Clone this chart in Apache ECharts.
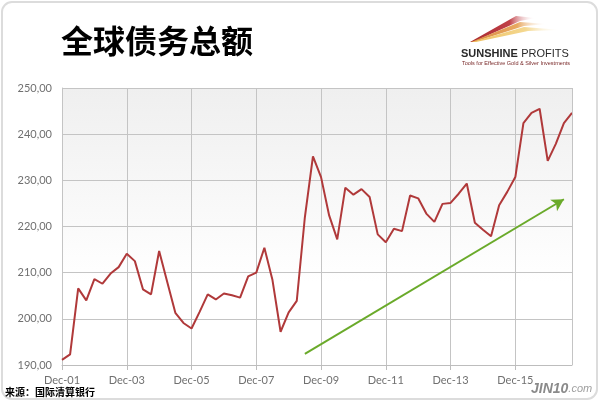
<!DOCTYPE html>
<html><head><meta charset="utf-8">
<script src="https://cdn.jsdelivr.net/npm/echarts@6/dist/echarts.min.js"></script>
<style>html,body{margin:0;padding:0;background:#fff}#c{width:600px;height:403px}</style>
</head><body><div id="c"></div>
<script>
// Quarterly categories, Dec-01 .. Sep-17
var startYear = 2001;
var monthNames = ['Mar','Jun','Sep','Dec'];
var categories = [];
(function(){ var y = startYear, q = 3; for (var i = 0; i < 64; i++) { categories.push(monthNames[q] + '-' + String(y % 100).padStart(2,'0')); q++; if (q > 3) { q = 0; y++; } } })();

var debtValues = [
191.1, 192.3, 206.6, 204.0, 208.6, 207.6, 209.8, 211.2, 214.1, 212.5,
206.4, 205.3, 214.7, 208.0, 201.3, 199.1, 197.9, 201.5, 205.3, 204.2,
205.5, 205.1, 204.6, 209.2, 210.0, 215.4, 208.4, 197.2, 201.4, 203.9,
222.0, 235.2, 230.7, 222.4, 217.2, 228.4, 226.9, 228.1, 226.4, 218.3,
216.6, 219.5, 219.0, 226.7, 226.1, 222.8, 221.0, 224.9, 225.1, 227.1,
229.3, 220.8, 219.3, 217.9, 224.6, 227.5, 230.7, 242.4, 244.6, 245.5,
234.2, 237.9, 242.4, 244.6
];
var yTicks = [190, 200, 210, 220, 230, 240, 250];
var trendStart = [29.9, 192.4];
var trendEnd = [62.4, 225.9];

var chart = echarts.init(document.getElementById('c'), null, {renderer:'canvas'});
var axisFont = 'Lato, "Open Sans", sans-serif';
function fade(c1, c2) {
  return new echarts.graphic.LinearGradient(0,0,1,0,[{offset:0,color:c1},{offset:0.6,color:c2},{offset:1,color:'rgba(255,255,255,0)'}]);
}
chart.setOption({
  animation: false,
  backgroundColor: '#fff',
  grid: { left: 62, right: 28, top: 88, bottom: 38, show: true, borderWidth: 0,
    backgroundColor: new echarts.graphic.LinearGradient(0,0,0,1,[{offset:0,color:'#efefef'},{offset:0.7,color:'#ffffff'},{offset:1,color:'#ffffff'}]) },
  xAxis: {
    type: 'category', data: categories, boundaryGap: false,
    axisLine: { lineStyle: { color: '#bdbdbd', width: 1 } },
    axisTick: { show: true, interval: 7, length: 5, lineStyle: { color: '#bdbdbd' } },
    axisLabel: { interval: 7, color: '#707070', fontSize: 11, fontFamily: axisFont, margin: 10 },
    splitLine: { show: true, interval: 7, lineStyle: { color: '#c4c4c4', width: 1 } }
  },
  yAxis: {
    type: 'value', min: yTicks[0], max: yTicks[yTicks.length-1], interval: 10,
    axisLine: { show: true, lineStyle: { color: '#c4c4c4' } },
    axisTick: { show: false },
    axisLabel: { color: '#707070', fontSize: 11, fontFamily: axisFont, margin: 10,
      formatter: function(v){ return v.toFixed(2).replace('.', ','); } },
    splitLine: { show: true, lineStyle: { color: '#c4c4c4', width: 1 } }
  },
  series: [{
    type: 'line', data: debtValues, symbol: 'none',
    lineStyle: { color: '#b0393a', width: 2 },
    markLine: {
      silent: true, animation: false, label: { show: false },
      lineStyle: { color: '#6aaa2a', width: 2, type: 'solid' },
      symbolSize: [10, 12],
      data: [[ { coord: trendStart, symbol: 'none' }, { coord: trendEnd, symbol: 'arrow' } ]]
    }
  }, {
    type: 'line', data: [], markLine: {
      silent: true, symbol: 'none', label: {show:false},
      lineStyle: { color: '#c4c4c4', width: 1, type: 'solid' },
      data: [[ {coord:[63, 190]}, {coord:[63, 250]} ]]
    }
  }],
  graphic: [
    { type: 'rect', z: -10, shape: { x: 2, y: 2, width: 595, height: 397, r: 10 },
      style: { fill: 'none', stroke: '#dcdcdc', lineWidth: 2 } },
    { type: 'text', left: 61, top: 25, style: { text: '全球债务总额', font: 'bold 32px "Noto Sans CJK SC"', fill: '#000' } },
    { type: 'text', left: 5, top: 387, style: { text: '来源：国际清算银行', font: 'bold 10px "Noto Sans CJK SC"', fill: '#000' } },
    // logo stripes
    { type: 'polygon', shape: { points: [[470,42],[516,16],[536,18],[520,21],[473,42]] },
      style: { fill: fade('#a82a2e', '#c04048') } },
    { type: 'polygon', shape: { points: [[471,42],[520,22],[548,24],[524,26],[474,42]] },
      style: { fill: fade('#d98a40', '#e8a860') } },
    { type: 'polygon', shape: { points: [[472,42],[524,27],[562,30],[528,31],[476,42]] },
      style: { fill: fade('#eec060', '#f4d890') } },
    { type: 'text', left: 461, top: 48, style: { rich: { a: { font: 'bold 11px "Liberation Sans", Arial', fill: '#2a2a2a' }, b: { font: '11px "Liberation Sans", Arial', fill: '#2a2a2a' } }, text: '{a|SUNSHINE} {b|PROFITS}' } },
    { type: 'text', left: 462, top: 60, style: { text: 'Tools for Effective Gold & Silver Investments', font: '5.5px "Liberation Sans", Arial', fill: '#7a2a2a' } },
    // watermark
    { type: 'text', left: 531, top: 382, style: { rich: { a: { font: 'italic bold 14px "Liberation Sans", Arial', fill: '#8a8a8a' }, b: { font: 'italic 11px "Liberation Sans", Arial', fill: '#a0a0a0' } }, text: '{a|JIN10}{b|.com}' } }
  ]
});
</script></body></html>
